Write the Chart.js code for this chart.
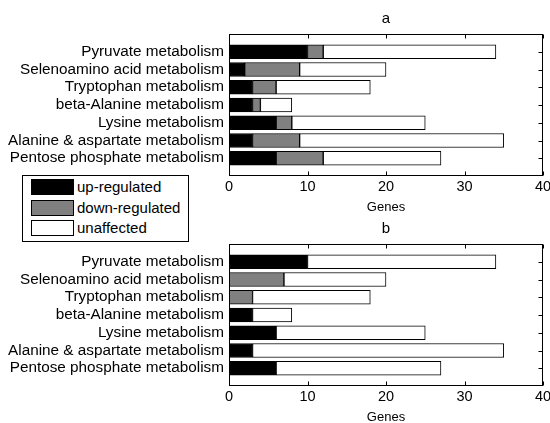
<!DOCTYPE html>
<html>
<head>
<meta charset="utf-8">
<script src="https://cdn.jsdelivr.net/npm/chart.js@4.4.1/dist/chart.umd.min.js"></script>
<style>
  html, body { margin: 0; padding: 0; background: #fff; width: 550px; height: 423px; overflow: hidden; }
  body { position: relative; font-family: "Liberation Sans", Arial, sans-serif; }
  canvas { position: absolute; left: 0; }
  #chartA { top: 0; }
  #chartB { top: 210px; }
  #legend {
    position: absolute; left: 22px; top: 175px; width: 165px; height: 65px;
    border: 1px solid #000; background: #fff; font-size: 15px; color: #000; z-index: 2;
  }
  .row { position: absolute; left: 8px; height: 16px; line-height: 16px; white-space: nowrap; }
  .swatch { display: inline-block; width: 41px; height: 14px; border: 1px solid #000; vertical-align: top; margin-right: 3px; }
</style>
</head>
<body>
<canvas id="chartA" width="550" height="214"></canvas>
<canvas id="chartB" width="550" height="214"></canvas>
<div id="legend"></div>

<script>
// ─── Data ─────────────────────────────────────────────────
const categories = [
  'Pyruvate metabolism',
  'Selenoamino acid metabolism',
  'Tryptophan metabolism',
  'beta-Alanine metabolism',
  'Lysine metabolism',
  'Alanine & aspartate metabolism',
  'Pentose phosphate metabolism',
];
const seriesNames  = ['up-regulated', 'down-regulated', 'unaffected'];
const seriesColors = ['#000000', '#808080', '#ffffff'];

// panel a
const upA     = [10, 2, 3, 3, 6, 3, 6];
const downA   = [2, 7, 3, 1, 2, 6, 6];
const unaffA  = [22, 11, 12, 4, 17, 26, 15];

// panel b
const upB     = [10, 0, 0, 3, 6, 3, 6];
const downB   = [0, 7, 3, 0, 0, 0, 0];
const unaffB  = [24, 13, 15, 5, 19, 32, 21];

const xMin = 0, xMax = 40, xStep = 10;
const xTitle = 'Genes';

const FONT = '"Liberation Sans", Arial, sans-serif';

// ─── Box + inward ticks, old-school plot style ────────────
const boxAxes = {
  id: 'boxAxes',
  afterDatasetsDraw(chart) {
    const { ctx, chartArea: a, scales: { x, y } } = chart;
    ctx.save();
    ctx.strokeStyle = '#000';
    ctx.lineWidth = 1;
    const L = Math.round(a.left) + 0.5, R = Math.round(a.right) - 0.5;
    const T = Math.round(a.top) + 0.5, B = Math.round(a.bottom) - 0.5;
    ctx.strokeRect(L, T, R - L, B - T);
    ctx.beginPath();
    x.ticks.forEach(t => {
      const px = Math.round(x.getPixelForValue(t.value)) + 0.5;
      ctx.moveTo(px, T); ctx.lineTo(px, T + 4);
      ctx.moveTo(px, B); ctx.lineTo(px, B - 4);
    });
    categories.forEach(c => {
      const py = Math.round(y.getPixelForValue(y.getLabels().indexOf(c))) + 0.5;
      ctx.moveTo(R, py); ctx.lineTo(R - 4, py);
    });
    ctx.stroke();
    ctx.restore();
  }
};

// pad categories with an empty slot at each end
const pad = arr => [null, ...arr, null];

function renderPanel(id, title, up, down, unaff) {
  const ctx = document.getElementById(id);
  const values = [up, down, unaff];

  new Chart(ctx, {
    type: 'bar',
    data: {
      labels: ['', ...categories, ''],
      datasets: seriesNames.map((name, i) => ({
        label: name,
        data: pad(values[i]),
        backgroundColor: seriesColors[i],
        borderColor: '#000',
        borderWidth: 1,
        borderSkipped: false,
        barThickness: 14,
      })),
    },
    options: {
      indexAxis: 'y',
      responsive: false,
      animation: false,
      devicePixelRatio: 1,
      layout: { padding: { top: 0, right: 7, left: 0, bottom: 0 } },
      plugins: {
        legend: { display: false },
        tooltip: { enabled: false },
        title: {
          display: true,
          text: title,
          fullSize: false,
          color: '#000',
          font: { family: FONT, size: 15, weight: 'normal', lineHeight: 1.2 },
          padding: { top: 10, bottom: 6 },
        },
      },
      scales: {
        x: {
          stacked: true,
          min: xMin, max: xMax,
          grid: { display: false, drawTicks: false },
          border: { display: false },
          ticks: { stepSize: xStep, color: '#000', padding: 2, font: { family: FONT, size: 14.5 } },
          title: {
            display: true, text: xTitle, color: '#000',
            font: { family: FONT, size: 13, lineHeight: 1 }, padding: 0,
          },
          afterFit: s => { s.height = 38; s.paddingLeft = 0; s.paddingRight = 0; },
        },
        y: {
          stacked: true,
          offset: false,
          grid: { display: false, drawTicks: false },
          border: { display: false },
          ticks: { autoSkip: false, color: '#000', padding: 5, font: { family: FONT, size: 15.3 } },
          afterFit: s => { s.width = 229; },
        },
      },
    },
    plugins: [boxAxes],
  });
}

function renderLegend() {
  const el = document.getElementById('legend');
  seriesNames.forEach((name, i) => {
    const row = document.createElement('div');
    row.className = 'row';
    row.style.top = (3 + i * 20.5) + 'px';
    row.innerHTML = `<span class="swatch" style="background:${seriesColors[i]}"></span>${name}`;
    el.appendChild(row);
  });
}

renderPanel('chartA', 'a', upA, downA, unaffA);
renderPanel('chartB', 'b', upB, downB, unaffB);
renderLegend();
</script>
</body>
</html>
